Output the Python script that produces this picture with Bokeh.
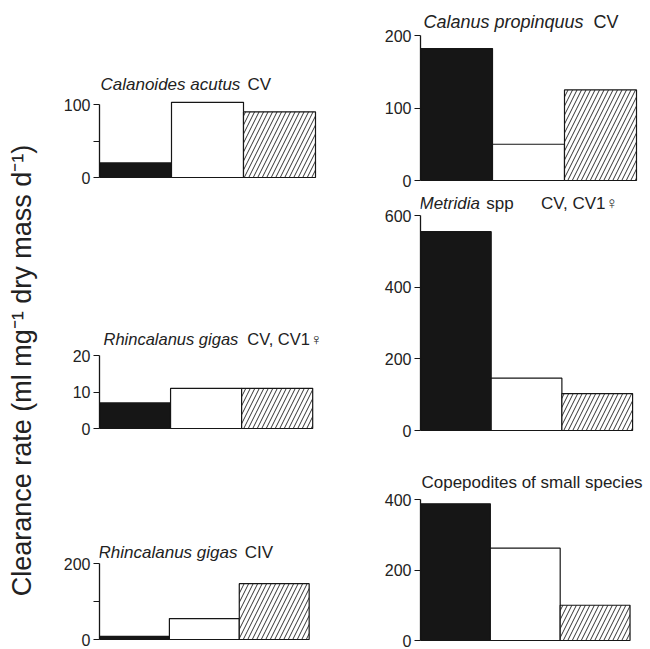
import math
from bokeh.plotting import figure
from bokeh.models import Label, FixedTicker, Range1d
from bokeh.layouts import row, column
from bokeh.embed import file_html
from bokeh.resources import INLINE

# ---------------- data ----------------
diets = ["diet A", "diet B", "diet C"]          # black, white, hatched bars
calanoides_cv = [20, 103, 90]
calanus_cv = [182, 50, 125]
rhinc_cv = [7, 11, 11]
metridia = [555, 146, 103]
rhinc_civ = [8, 55, 147]
copepodites = [388, 262, 100]

ticks_calanoides = [0, 50, 100]
labels_calanoides = ["0", "", "100"]
ticks_calanus = [0, 100, 200]
labels_calanus = ["0", "100", "200"]
ticks_rhinc_cv = [0, 10, 20]
labels_rhinc_cv = ["0", "10", "20"]
ticks_metridia = [0, 200, 400, 600]
labels_metridia = ["0", "200", "400", "600"]
ticks_rhinc_civ = [0, 100, 200]
labels_rhinc_civ = ["0", "", "200"]
ticks_copepodites = [0, 200, 400]
labels_copepodites = ["0", "200", "400"]

y_label = "Clearance rate (ml mg\u207b\u00b9 dry mass d\u207b\u00b9)"

FONT = "Liberation Sans"
INK = "#161616"


def panel(vals, ticks, tick_labels, col_x0, col_w, slot_y0, slot_h,
          axis_x, bars_right, zero_y, top_y, title_y, title_parts, title_size="17px"):
    top_val = ticks[-1]
    bw = (bars_right - axis_x) / 3.0
    ppu = (zero_y - top_y) / float(top_val)
    frame_right = col_x0 + col_w
    frame_top = title_y - 14
    frame_bottom = zero_y + 4
    p = figure(width=col_w, height=slot_h, output_backend="svg",
               toolbar_location=None, x_axis_location=None,
               min_border_left=axis_x - col_x0, min_border_right=0,
               min_border_top=frame_top - slot_y0,
               min_border_bottom=slot_y0 + slot_h - frame_bottom,
               x_range=Range1d(0, (frame_right - axis_x) / bw),
               y_range=Range1d(-(frame_bottom - zero_y) / ppu,
                               (zero_y - frame_top) / ppu))
    p.grid.visible = False
    p.outline_line_color = None
    ax = p.yaxis[0]
    ax.ticker = FixedTicker(ticks=ticks)
    ax.major_label_overrides = {t: l for t, l in zip(ticks, tick_labels)}
    ax.bounds = (0, top_val)
    ax.minor_tick_line_color = None
    ax.major_tick_in = 0
    ax.major_tick_out = 6
    ax.major_label_standoff = 3
    ax.axis_line_width = 1.3
    ax.axis_line_color = INK
    ax.major_tick_line_width = 1.2
    ax.major_tick_line_color = INK
    ax.major_label_text_font = FONT
    ax.major_label_text_font_size = "16px"
    ax.major_label_text_color = "#222222"

    idx = list(range(len(vals)))
    left = [i for i in idx]
    right = [i + 1 for i in idx]
    # black bar
    p.quad(left=left[:1], right=right[:1], bottom=[0], top=vals[:1],
           fill_color=INK, line_color=INK, line_width=1.2)
    # white bar
    p.quad(left=left[1:2], right=right[1:2], bottom=[0], top=vals[1:2],
           fill_color="white", line_color=INK, line_width=1.2)
    # hatched bar
    p.quad(left=left[2:3], right=right[2:3], bottom=[0], top=vals[2:3],
           fill_color="white", line_color=INK, line_width=1.2,
           hatch_pattern="/", hatch_color="#333333", hatch_weight=1.0,
           hatch_scale=9)

    for text, style, px in title_parts:
        p.add_layout(Label(x=(px - axis_x) / bw, y=(zero_y - title_y) / ppu,
                           text=text, text_font=FONT, text_font_size=title_size,
                           text_font_style=style, text_color="#222222",
                           text_align="left", text_baseline="middle"))
    return p


LX0, LW = 55, 280
RX0, RW = 335, 315

p1 = panel(calanoides_cv, ticks_calanoides, labels_calanoides, LX0, LW, 0, 250,
           99, 315, 177, 104, 84,
           [("Calanoides acutus", "italic", 100), ("CV", "normal", 247)])
p3 = panel(rhinc_cv, ticks_rhinc_cv, labels_rhinc_cv, LX0, LW, 250, 210,
           97, 312, 428, 355, 338,
           [("Rhincalanus gigas", "italic", 101), ("CV, CV1\u2640", "normal", 246)],
           title_size="16.5px")
p5 = panel(rhinc_civ, ticks_rhinc_civ, labels_rhinc_civ, LX0, LW, 460, 189,
           93, 308, 639, 563, 552,
           [("Rhincalanus gigas", "italic", 92), ("CIV", "normal", 242)])

p2 = panel(calanus_cv, ticks_calanus, labels_calanus, RX0, RW, 0, 188,
           420, 636, 180, 35, 21,
           [("Calanus propinquus", "italic", 423), ("CV", "normal", 593)],
           title_size="18px")
p4 = panel(metridia, ticks_metridia, labels_metridia, RX0, RW, 188, 272,
           419, 632, 430, 215, 203,
           [("Metridia", "italic", 418), ("spp", "normal", 485),
            ("CV, CV1\u2640", "normal", 540)])
p6 = panel(copepodites, ticks_copepodites, labels_copepodites, RX0, RW, 460, 189,
           414, 629, 640, 499, 482,
           [("Copepodites of small species", "normal", 415)])

# y label strip
pl = figure(width=LX0, height=649, output_backend="svg", toolbar_location=None,
            x_axis_location=None, y_axis_location=None,
            min_border=0, x_range=Range1d(0, LX0), y_range=Range1d(0, 649))
pl.grid.visible = False
pl.outline_line_color = None
pl.add_layout(Label(x=21, y=649 - 370, text=y_label, angle=math.pi / 2,
                    text_font=FONT, text_font_size="27px", text_color="#222222",
                    text_align="center", text_baseline="middle"))

layout = row(pl, column(p1, p3, p5), column(p2, p4, p6))

with open("out.html", "w") as f:
    f.write(file_html(layout, INLINE))
